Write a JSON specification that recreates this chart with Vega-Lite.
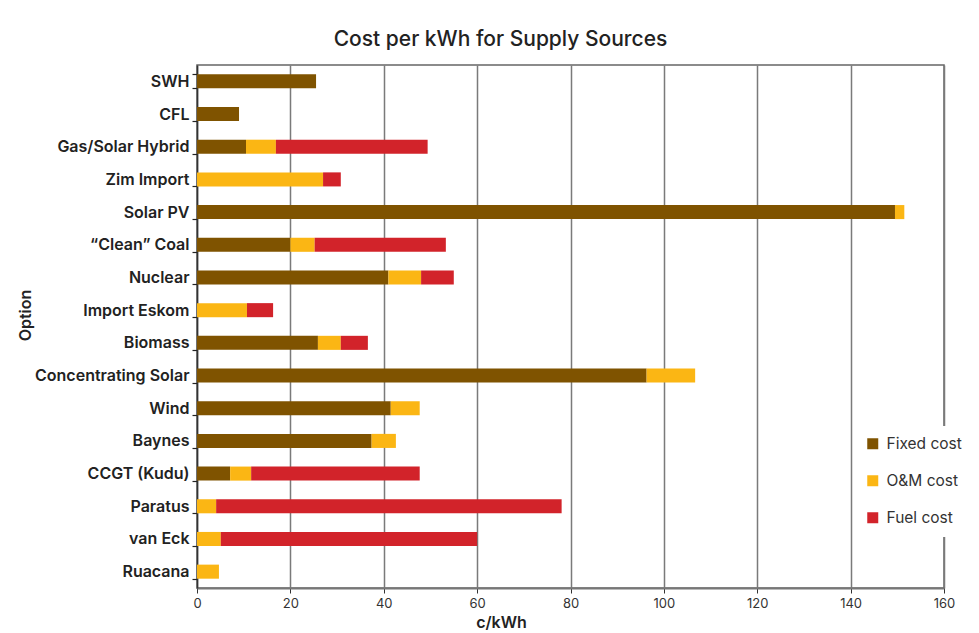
{
  "$schema": "https://vega.github.io/schema/vega-lite/v6.json",
  "width": 747,
  "height": 523,
  "autosize": {"type": "none"},
  "padding": {"left": 197, "top": 65, "right": 35, "bottom": 45},
  "background": "white",
  "title": {
    "text": "Cost per kWh for Supply Sources",
    "font": "Inter",
    "fontSize": 21,
    "fontWeight": 500,
    "color": "#222222",
    "anchor": "middle",
    "dx": -70,
    "offset": 7
  },
  "data": {
    "values": [
      {"option": "SWH", "cost": "Fixed cost", "value": 25.5},
      {"option": "CFL", "cost": "Fixed cost", "value": 9.0},
      {"option": "Gas/Solar Hybrid", "cost": "Fixed cost", "value": 10.5},
      {"option": "Gas/Solar Hybrid", "cost": "O&M cost", "value": 6.4},
      {"option": "Gas/Solar Hybrid", "cost": "Fuel cost", "value": 32.5},
      {"option": "Zim Import", "cost": "O&M cost", "value": 27.0},
      {"option": "Zim Import", "cost": "Fuel cost", "value": 3.8},
      {"option": "Solar PV", "cost": "Fixed cost", "value": 149.5},
      {"option": "Solar PV", "cost": "O&M cost", "value": 2.0},
      {"option": "“Clean” Coal", "cost": "Fixed cost", "value": 20.0},
      {"option": "“Clean” Coal", "cost": "O&M cost", "value": 5.2},
      {"option": "“Clean” Coal", "cost": "Fuel cost", "value": 28.1},
      {"option": "Nuclear", "cost": "Fixed cost", "value": 41.0},
      {"option": "Nuclear", "cost": "O&M cost", "value": 7.0},
      {"option": "Nuclear", "cost": "Fuel cost", "value": 7.0},
      {"option": "Import Eskom", "cost": "O&M cost", "value": 10.7},
      {"option": "Import Eskom", "cost": "Fuel cost", "value": 5.6},
      {"option": "Biomass", "cost": "Fixed cost", "value": 25.9},
      {"option": "Biomass", "cost": "O&M cost", "value": 4.9},
      {"option": "Biomass", "cost": "Fuel cost", "value": 5.8},
      {"option": "Concentrating Solar", "cost": "Fixed cost", "value": 96.3},
      {"option": "Concentrating Solar", "cost": "O&M cost", "value": 10.4},
      {"option": "Wind", "cost": "Fixed cost", "value": 41.5},
      {"option": "Wind", "cost": "O&M cost", "value": 6.2},
      {"option": "Baynes", "cost": "Fixed cost", "value": 37.4},
      {"option": "Baynes", "cost": "O&M cost", "value": 5.2},
      {"option": "CCGT (Kudu)", "cost": "Fixed cost", "value": 7.1},
      {"option": "CCGT (Kudu)", "cost": "O&M cost", "value": 4.5},
      {"option": "CCGT (Kudu)", "cost": "Fuel cost", "value": 36.1},
      {"option": "Paratus", "cost": "O&M cost", "value": 4.1},
      {"option": "Paratus", "cost": "Fuel cost", "value": 74.0},
      {"option": "van Eck", "cost": "O&M cost", "value": 5.1},
      {"option": "van Eck", "cost": "Fuel cost", "value": 54.9},
      {"option": "Ruacana", "cost": "O&M cost", "value": 4.7}
    ]
  },
  "transform": [
    {"calculate": "indexof(['Fixed cost', 'O&M cost', 'Fuel cost'], datum.cost)", "as": "stackOrder"}
  ],
  "mark": {"type": "bar"},
  "encoding": {
    "y": {
      "field": "option",
      "type": "nominal",
      "sort": ["SWH", "CFL", "Gas/Solar Hybrid", "Zim Import", "Solar PV", "“Clean” Coal", "Nuclear", "Import Eskom", "Biomass", "Concentrating Solar", "Wind", "Baynes", "CCGT (Kudu)", "Paratus", "van Eck", "Ruacana"],
      "scale": {"paddingInner": 0.57, "paddingOuter": 0.285},
      "axis": {
        "title": "Option",
        "titleFont": "Inter",
        "titleFontSize": 16,
        "titleFontWeight": 600,
        "titleColor": "#222222",
        "titleX": -164,
        "titleY": 250,
        "titleAngle": -90,
        "titleAlign": "center",
        "titleBaseline": "bottom",
        "labelFont": "Inter",
        "labelFontSize": 16,
        "labelFontWeight": 600,
        "labelColor": "#222222",
        "labelPadding": 3,
        "tickBand": "extent",
        "tickSize": 5,
        "tickColor": "#222222",
        "tickWidth": 1.2,
        "domainColor": "#333333",
        "domainWidth": 1.5,
        "grid": false
      }
    },
    "x": {
      "field": "value",
      "type": "quantitative",
      "stack": "zero",
      "scale": {"domain": [0, 160], "nice": false},
      "axis": {
        "title": "c/kWh",
        "titleFont": "Inter",
        "titleFontSize": 16,
        "titleFontWeight": 600,
        "titleColor": "#222222",
        "titleX": 304,
        "titleY": 39,
        "titleAlign": "center",
        "titleBaseline": "alphabetic",
        "values": [0, 20, 40, 60, 80, 100, 120, 140, 160],
        "labelFont": "Inter",
        "labelFontSize": 13,
        "labelColor": "#333333",
        "labelPadding": 4,
        "labelFlush": false,
        "tickSize": 5,
        "tickColor": "#333333",
        "domainColor": "#777777",
        "domainWidth": 2,
        "grid": true,
        "gridColor": "#7a7a7a",
        "gridWidth": 1.5
      }
    },
    "color": {
      "field": "cost",
      "type": "nominal",
      "scale": {
        "domain": ["Fixed cost", "O&M cost", "Fuel cost"],
        "range": ["#7f5300", "#fbb614", "#d2232a"]
      },
      "legend": {
        "title": null,
        "orient": "none",
        "legendX": 658,
        "legendY": 361,
        "fillColor": "white",
        "padding": 10,
        "symbolType": "square",
        "symbolSize": 121,
        "symbolStrokeWidth": 0,
        "labelFont": "Inter",
        "labelFontSize": 15.5,
        "labelColor": "#333333",
        "labelOffset": 6,
        "rowPadding": 20
      }
    },
    "order": {"field": "stackOrder", "type": "quantitative"}
  },
  "config": {
    "view": {"stroke": "#666666", "strokeWidth": 1.5}
  }
}
